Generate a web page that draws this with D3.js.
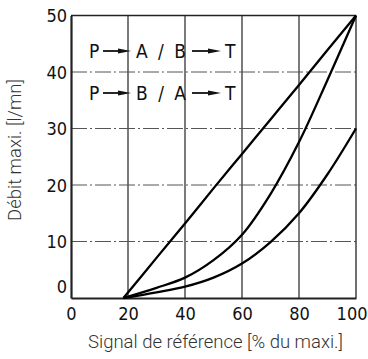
<!DOCTYPE html>
<html>
<head>
<meta charset="utf-8">
<script src="https://cdn.jsdelivr.net/npm/d3@7"></script>
<style>
  body { margin: 0; background: #fff; }
  .tick text { font-family: "DejaVu Sans Condensed", "DejaVu Sans", sans-serif; font-size: 18px; fill: #111; }
  .title { font-family: Roboto, "Liberation Sans", sans-serif; font-weight: 300; font-size: 18.5px; fill: #333; }
  .legend { font-family: "DejaVu Sans Condensed", "DejaVu Sans", sans-serif; font-size: 19px; fill: #111; }
</style>
</head>
<body>
<svg class="chart" width="368" height="359"></svg>
<script>
var signal = [18.4, 30, 40, 50, 60, 70, 80, 90, 100];
var lineAB = [0, 7.1, 13.2, 19.4, 25.5, 31.6, 37.7, 43.9, 50];
var curveMid = [0, 1.8, 3.6, 6.7, 11.2, 18.4, 27.6, 38.6, 50];
var curveLow = [0, 1.0, 2.0, 3.6, 6.1, 9.9, 15.0, 21.9, 30];
var xTicks = [0, 20, 40, 60, 80, 100];
var yTicks = [0, 10, 20, 30, 40, 50];
var legendRows = [['P', 'A / B', 'T'], ['P', 'B / A', 'T']];

var svg = d3.select('.chart');

var xScale = d3.scaleLinear().domain([0, 100]).range([71, 356]);
var yScale = d3.scaleLinear().domain([0, 50]).range([298, 15.5]);

// grid
svg.selectAll('line.vgrid')
  .data([20, 40, 60, 80])
  .join('line')
  .attr('x1', d => xScale(d)).attr('x2', d => xScale(d))
  .attr('y1', yScale(0)).attr('y2', yScale(50))
  .attr('stroke', '#222').attr('stroke-width', 1.2);

svg.selectAll('line.hgrid')
  .data([10, 20, 30, 40])
  .join('line')
  .attr('x1', xScale(0)).attr('x2', xScale(100))
  .attr('y1', d => yScale(d)).attr('y2', d => yScale(d))
  .attr('stroke', '#555').attr('stroke-width', 1)
  .attr('stroke-dasharray', '16,3,2,3');

// frame
svg.append('line')
  .attr('x1', xScale(0)).attr('x2', xScale(100))
  .attr('y1', yScale(50)).attr('y2', yScale(50))
  .attr('stroke', '#222').attr('stroke-width', 1.3);
svg.append('line')
  .attr('x1', xScale(100)).attr('x2', xScale(100))
  .attr('y1', yScale(0)).attr('y2', yScale(50))
  .attr('stroke', '#222').attr('stroke-width', 1.3);

// axes
var xAxis = svg.append('g')
  .attr('transform', 'translate(0,' + yScale(0) + ')')
  .call(d3.axisBottom(xScale).tickValues(xTicks).tickSize(0).tickPadding(6));
xAxis.select('.domain').attr('stroke', '#222').attr('stroke-width', 2.2);
xAxis.selectAll('.tick text').attr('dy', '0.9em');
// last label sits against the right edge
xAxis.selectAll('.tick text')
  .filter(d => d === 100)
  .attr('text-anchor', 'end')
  .attr('x', 367 - xScale(100));

var yAxis = svg.append('g')
  .attr('transform', 'translate(' + xScale(0) + ',0)')
  .call(d3.axisLeft(yScale).tickValues(yTicks).tickSize(0).tickPadding(4));
yAxis.select('.domain').attr('stroke', '#222').attr('stroke-width', 2.2);
yAxis.selectAll('.tick text')
  .attr('dy', d => d === 0 ? '-0.3em' : '0.36em');

// curves
var series = [lineAB, curveMid, curveLow];
var line = d3.line()
  .x((d, i) => xScale(signal[i]))
  .y(d => yScale(d))
  .curve(d3.curveCatmullRom.alpha(0.5));

svg.selectAll('path.curve')
  .data(series)
  .join('path')
  .classed('curve', true)
  .attr('d', d => line(d))
  .attr('fill', 'none')
  .attr('stroke', '#000')
  .attr('stroke-width', 2.3);

// legend
function arrow(g, x0, x1, y) {
  g.append('line')
    .attr('x1', x0).attr('x2', x1 - 10)
    .attr('y1', y).attr('y2', y)
    .attr('stroke', '#111').attr('stroke-width', 1.8);
  g.append('path')
    .attr('d', 'M' + (x1 - 13) + ',' + (y - 2.5) + 'L' + x1 + ',' + y + 'L' + (x1 - 13) + ',' + (y + 2.5) + 'Z')
    .attr('fill', '#111');
}

var leg = svg.append('g');
legendRows.forEach(function (row, i) {
  var base = i === 0 ? 58 : 100;
  leg.append('text').attr('class', 'legend').attr('x', 89).attr('y', base).text(row[0]);
  arrow(leg, 103, 131, base - 7);
  leg.append('text').attr('class', 'legend').attr('x', 136).attr('y', base)
    .attr('textLength', 50).attr('lengthAdjust', 'spacing').text(row[1]);
  arrow(leg, 192, 221, base - 7);
  leg.append('text').attr('class', 'legend').attr('x', 225).attr('y', base).text(row[2]);
});

// titles
svg.append('text').attr('class', 'title')
  .attr('x', 215.5).attr('y', 348)
  .attr('text-anchor', 'middle')
  .text('Signal de référence [% du maxi.]');

svg.append('text').attr('class', 'title')
  .attr('transform', 'translate(21,150) rotate(-90)')
  .attr('text-anchor', 'middle')
  .text('Débit maxi. [l/mn]');
</script>
</body>
</html>
